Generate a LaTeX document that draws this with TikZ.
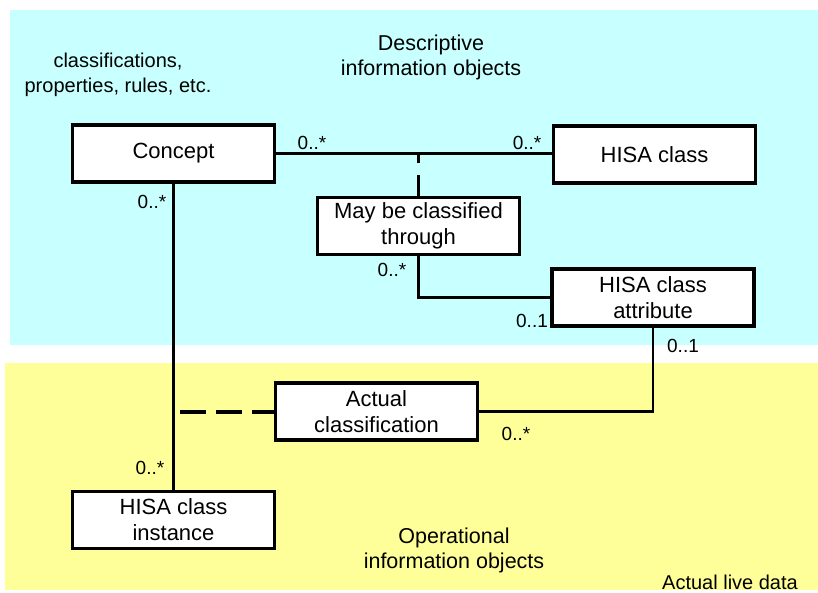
\documentclass[tikz,border=0pt]{standalone}
\usepackage{fontspec}
\setmainfont{Liberation Sans}
\definecolor{desccyan}{RGB}{200,255,255}
\definecolor{opyellow}{RGB}{255,255,153}
\begin{document}
\begin{tikzpicture}[x=1pt,y=-1pt,
  classbox/.style={draw=black, line width=3.2pt, fill=white, minimum width=202pt, minimum height=57pt, inner sep=0pt, align=center, font=\fontsize{22}{26}\selectfont},
  mult/.style={inner sep=0pt, font=\fontsize{19}{22}\selectfont},
  plain/.style={inner sep=0pt, align=center, font=\fontsize{20}{25}\selectfont},
  region/.style={inner sep=0pt, align=center, font=\fontsize{21.5}{25}\selectfont},
  conn/.style={draw=black, line width=2.6pt},
  assocdash/.style={draw=black, line width=3pt, dash pattern=on 21pt off 12pt},
  depdash/.style={draw=black, line width=4.5pt, dash pattern=on 26pt off 10pt}]
\useasboundingbox (0,0) rectangle (818,592);
\fill[white] (0,0) rectangle (818,592);
\fill[desccyan] (10,10) rectangle (818,345);
\fill[opyellow] (5,363) rectangle (818,590);

\node[region] (desc) at (431,57) {Descriptive\\information objects};
\node[plain] (classif) at (118,75) {classifications,\\properties, rules, etc.};
\node[region] (oper) at (454,550) {Operational\\information objects};
\node[plain] (live) at (730,582) {Actual live data};

\node[classbox] (concept) at (173.5,153.5) {Concept};
\node[classbox] (hisa) at (654.5,154.5) {HISA class};
\node[classbox] (may) at (418.5,226) {May be classified\\through};
\node[classbox] (attr) at (653,297.5) {HISA class\\attribute};
\node[classbox] (actual) at (376.5,411.5) {Actual\\classification};
\node[classbox] (inst) at (173.5,520) {HISA class\\instance};

\coordinate (assoc) at (418.5,154);
\coordinate (depstart) at (180,412);

\draw[conn] (concept.east) -- (concept.east -| hisa.west);
\draw[assocdash] (may.north) -- (assoc);
\draw[conn] (may.south) |- (attr.west);
\draw[conn] (concept.south) -- (inst.north);
\draw[depdash] (depstart) -- (depstart -| actual.west);
\draw[conn] (actual.east) -| (attr.south);

\node[mult] (m1) at (312,143) {0..*};
\node[mult] (m2) at (527,143) {0..*};
\node[mult] (m3) at (152,202) {0..*};
\node[mult] (m4) at (392,270) {0..*};
\node[mult] (m5) at (532,321) {0..1};
\node[mult] (m6) at (683,346) {0..1};
\node[mult] (m7) at (516,434) {0..*};
\node[mult] (m8) at (150,468) {0..*};
\end{tikzpicture}
\end{document}
